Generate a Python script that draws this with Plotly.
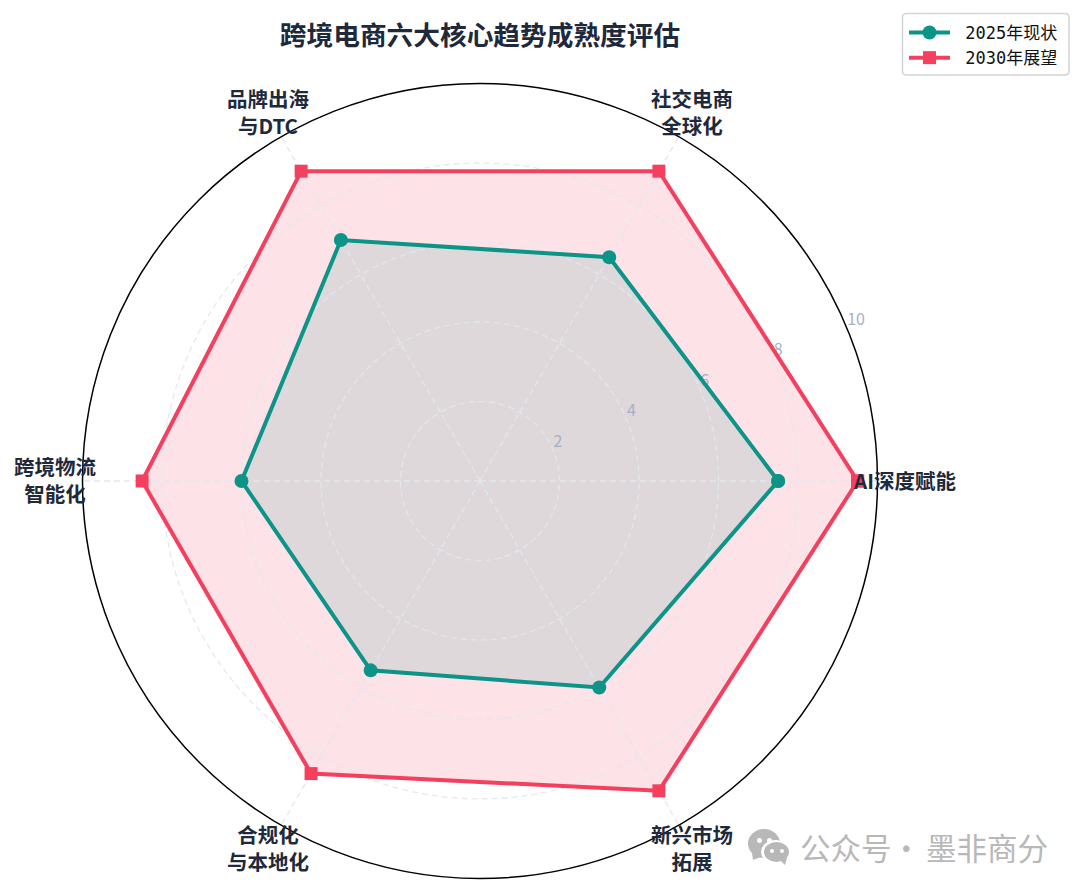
import math
import plotly.graph_objects as go

categories = ["AI深度赋能", "社交电商<br>全球化", "品牌出海<br>与DTC", "跨境物流<br>智能化", "合规化<br>与本地化", "新兴市场<br>拓展"]
angles = [0, 60, 120, 180, 240, 300]
values_2025 = [7.5, 6.5, 7.0, 6.0, 5.5, 6.0]
values_2030 = [9.5, 9.0, 9.0, 8.5, 8.5, 9.0]
radial_ticks = [2, 4, 6, 8, 10]
label_radius_units = 10.69

TEAL = "#0d9488"
ROSE = "#f43f5e"
NAVY = "#1e293b"
GRID = "rgba(226,232,240,0.95)"
CJK = "Noto Sans CJK SC"
WM = "#b8b8b8"
W, H = 1080, 892
OFF = 8  # page body margin
cx, cy, R = 480, 481, 397.5


def close(seq):
    return list(seq) + [seq[0]]


def px(x):
    return (x - OFF) / W


def py(y):
    return 1 - (y - OFF) / H


def poly(points):
    return "M" + " L".join(f"{px(x):.5f},{py(y):.5f}" for x, y in points) + " Z"


fig = go.Figure()
# filled areas first, the grid over them, then the outlines
for vals, fill in [(values_2030, "rgba(244,63,94,0.15)"), (values_2025, "rgba(13,148,136,0.125)")]:
    fig.add_trace(go.Scatterpolar(r=close(vals), theta=close(angles), mode="lines", showlegend=False,
                                  line=dict(width=0), fill="toself", fillcolor=fill, hoverinfo="skip"))
circle_theta = list(range(0, 361, 2))
for t in radial_ticks[:-1]:
    fig.add_trace(go.Scatterpolar(r=[t] * len(circle_theta), theta=circle_theta, mode="lines", showlegend=False,
                                  line=dict(color=GRID, width=1.3, dash="6px,4px"), hoverinfo="skip"))
for a in angles:
    fig.add_trace(go.Scatterpolar(r=[0, radial_ticks[-1]], theta=[a, a], mode="lines", showlegend=False,
                                  line=dict(color=GRID, width=1.3, dash="6px,4px"), hoverinfo="skip"))
fig.add_trace(go.Scatterpolar(r=radial_ticks, theta=[22.5] * len(radial_ticks), mode="text",
                              text=[str(t) for t in radial_ticks], textposition="top right", showlegend=False,
                              cliponaxis=False, hoverinfo="skip",
                              textfont=dict(family="Liberation Sans Narrow, " + CJK, size=16, color="#a3b1c6")))
for name, vals, color, sym, size in [
    ("\u00a02030年展望", values_2030, ROSE, "square", 13),
    ("\u00a02025年现状", values_2025, TEAL, "circle", 14),
]:
    fig.add_trace(go.Scatterpolar(
        r=close(vals), theta=close(angles), name=name, mode="lines+markers",
        line=dict(color=color, width=4), marker=dict(color=color, size=size, symbol=sym), cliponaxis=False,
    ))

scale = R / radial_ticks[-1]
annotations = [
    dict(text=c, xref="paper", yref="paper", showarrow=False, xanchor="center", yanchor="middle",
         x=px(cx + label_radius_units * scale * math.cos(math.radians(a))),
         y=py(cy - 1.5 - label_radius_units * scale * math.sin(math.radians(a))),
         font=dict(family=CJK, size=20.5, color=NAVY, weight="bold"))
    for c, a in zip(categories, angles)
]
for txt, x, anchor in [("公众号", 798, "left"), ("·", 906, "center"), ("墨非商分", 924, "left")]:
    annotations.append(dict(text=txt, xref="paper", yref="paper", x=px(x), y=py(846.5), xanchor=anchor,
                            yanchor="middle", showarrow=False, font=dict(family=CJK, size=30.5, color=WM)))

shapes = []
for x0, y0, x1, y1, c in [
    (748, 829, 780, 858, WM),
    (761, 840, 790, 864, "#ffffff"),
    (764, 842, 789, 862, WM),
    (757, 838, 762, 843, "#ffffff"),
    (767, 838, 772, 843, "#ffffff"),
    (770, 849, 774, 853, "#ffffff"),
    (780, 849, 784, 853, "#ffffff"),
]:
    shapes.append(dict(type="circle", xref="paper", yref="paper", layer="above",
                       x0=px(x0), x1=px(x1), y0=py(y0), y1=py(y1),
                       fillcolor=c, line=dict(width=0)))
for tail in [[(752, 853), (761, 857), (753, 860)], [(780, 860), (787, 858), (785, 865)]]:
    shapes.append(dict(type="path", xref="paper", yref="paper", layer="above", path=poly(tail),
                       fillcolor=WM, line=dict(width=0)))
# rounded legend frame
lx0, lx1, ly0, ly1, rad = 902.5, 1069, 13.5, 75, 4
frame = (f"M{px(lx0 + rad):.5f},{py(ly0):.5f} L{px(lx1 - rad):.5f},{py(ly0):.5f} "
         f"Q{px(lx1):.5f},{py(ly0):.5f} {px(lx1):.5f},{py(ly0 + rad):.5f} "
         f"L{px(lx1):.5f},{py(ly1 - rad):.5f} Q{px(lx1):.5f},{py(ly1):.5f} {px(lx1 - rad):.5f},{py(ly1):.5f} "
         f"L{px(lx0 + rad):.5f},{py(ly1):.5f} Q{px(lx0):.5f},{py(ly1):.5f} {px(lx0):.5f},{py(ly1 - rad):.5f} "
         f"L{px(lx0):.5f},{py(ly0 + rad):.5f} Q{px(lx0):.5f},{py(ly0):.5f} {px(lx0 + rad):.5f},{py(ly0):.5f} Z")
shapes.append(dict(type="path", xref="paper", yref="paper", layer="above", path=frame,
                   line=dict(color="#d4d4d4", width=1.5)))

fig.update_layout(
    width=W, height=H, margin=dict(l=0, r=0, t=0, b=0),
    paper_bgcolor="white", plot_bgcolor="white",
    font=dict(family=CJK),
    title=dict(text="跨境电商六大核心趋势成熟度评估", x=px(480), y=py(36), xanchor="center", yanchor="middle",
               font=dict(family=CJK, size=26.7, color=NAVY, weight="bold")),
    polar=dict(
        domain=dict(x=[px(cx - R), px(cx + R)], y=[py(cy + R), py(cy - R)]),
        bgcolor="white",
        radialaxis=dict(range=[0, 10], tickvals=radial_ticks, angle=22.5, showline=False, ticks="",
                        showgrid=False, showticklabels=False),
        angularaxis=dict(thetaunit="degrees", direction="counterclockwise", rotation=0,
                         tickvals=angles, showticklabels=False, ticks="", showgrid=False,
                         linecolor="#000000", linewidth=1.5, showline=True),
    ),
    legend=dict(x=px(904), y=py(15), xanchor="left", yanchor="top", traceorder="reversed",
                itemwidth=41, borderwidth=0, bgcolor="rgba(0,0,0,0)",
                font=dict(family="DejaVu Sans Mono, " + CJK, size=17, color="#111111")),
    annotations=annotations,
    shapes=shapes,
)
fig.write_html("out.html")
